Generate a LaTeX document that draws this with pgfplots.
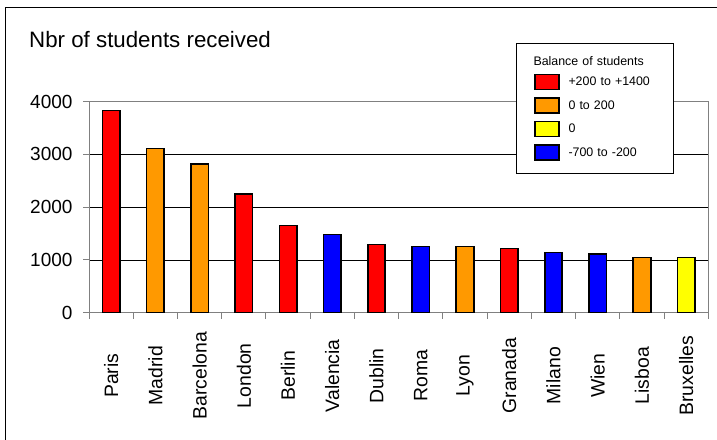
\documentclass[border=0pt]{standalone}
\usepackage{pgfplots}
\pgfplotsset{compat=1.18}
\usepackage{fontspec}
\setmainfont{Liberation Sans}

\definecolor{barred}{HTML}{FF0000}
\definecolor{barorange}{HTML}{FF9900}
\definecolor{baryellow}{HTML}{FFFF00}
\definecolor{barblue}{HTML}{0000FF}
\definecolor{axisgray}{HTML}{808080}

\begin{document}
\begin{tikzpicture}
\useasboundingbox (0,0) rectangle (717pt,439pt);
% chart frame
\draw[line width=1.3pt] (5.7pt,-20pt) -- (5.7pt,431.7pt) -- (740pt,431.7pt);
\node[anchor=base west, inner sep=0pt, font=\fontsize{22.3}{25}\selectfont]
  at (29pt,391.3pt) {Nbr of students received};

\begin{axis}[
  at={(89pt,126.3pt)}, anchor=south west,
  scale only axis, width=619.3pt, height=211pt,
  xmin=-0.5, xmax=13.5, ymin=0, ymax=4000,
  ytick={0,1000,2000,3000,4000},
  xtick={0,...,13},
  xticklabels={Paris,Madrid,Barcelona,London,Berlin,Valencia,Dublin,Roma,Lyon,Granada,Milano,Wien,Lisboa,Bruxelles},
  minor xtick={-0.5,0.5,...,13.5},
  tick pos=left, tick align=outside,
  major tick length=6pt, minor tick length=6pt,
  major x tick style={draw=none},
  tick style={axisgray, line width=1pt},
  ymajorgrids, major grid style={black, line width=0.9pt},
  axis line style={axisgray, line width=1pt},
  /pgf/number format/.cd, 1000 sep={}, assume math mode=true, /pgfplots/.cd,
  yticklabel style={font=\fontsize{19}{19}\selectfont, xshift=-7pt},
  xticklabel style={font=\fontsize{19.4}{19.4}\selectfont, yshift=-57pt, rotate=90, anchor=center},
  ybar, bar width=17.5pt, bar shift=0pt,
  legend image code/.code={\draw[#1,/tikz/.cd,line width=1.3pt] (0pt,-7.5pt) rectangle (24pt,7.5pt);},
  legend cell align=left,
  legend style={draw=black, line width=1pt, fill=white,
    at={(0.689,1.2768)}, anchor=north west,
    inner xsep=18pt, inner ysep=12.5pt, row sep=7.2pt, column sep=9pt,
    nodes={inner sep=0pt, text width=87pt, font=\fontsize{12.4}{14}\selectfont}},
]
\addlegendimage{empty legend}
\addlegendentry{\hspace*{-35pt}Balance of students}

% balance +200 to +1400
\addplot[draw=black, line width=1.6pt, fill=barred]
  coordinates {(0,3830) (3,2250) (4,1655) (6,1295) (9,1215)};
\addlegendentry{+200 to +1400}
% balance 0 to 200
\addplot[draw=black, line width=1.6pt, fill=barorange]
  coordinates {(1,3110) (2,2820) (8,1255) (12,1045)};
\addlegendentry{0 to 200}
% balance 0
\addplot[draw=black, line width=1.6pt, fill=baryellow]
  coordinates {(13,1045)};
\addlegendentry{0}
% balance -700 to -200
\addplot[draw=black, line width=1.6pt, fill=barblue]
  coordinates {(5,1480) (7,1255) (10,1145) (11,1115)};
\addlegendentry{-700 to -200}
\end{axis}
\end{tikzpicture}
\end{document}
